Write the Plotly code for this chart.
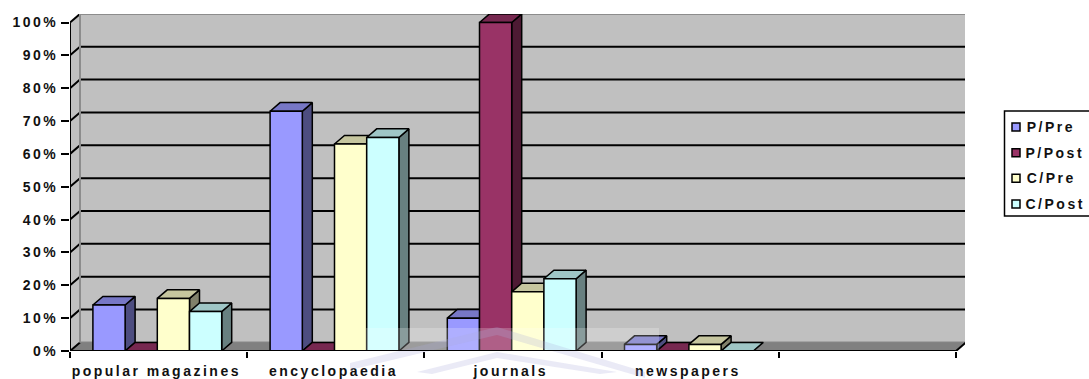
import plotly.graph_objects as go

categories = ["popular magazines", "encyclopaedia", "journals", "newspapers", " "]
series_names = ["P/Pre", "P/Post", "C/Pre", "C/Post"]
p_pre = [14, 73, 10, 2, None]
p_post = [0, 0, 100, 0, None]
c_pre = [16, 63, 18, 2, None]
c_post = [12, 65, 22, 0, None]
y_ticks = [0, 10, 20, 30, 40, 50, 60, 70, 80, 90, 100]
y_tick_text = ["0%", "10%", "20%", "30%", "40%", "50%", "60%", "70%", "80%", "90%", "100%"]

front_colors = ["#9999FF", "#993366", "#FFFFCC", "#CCFFFF"]
top_colors = ["#7777C6", "#772850", "#C6C69F", "#9FC6C6"]
side_colors = ["#4D4D80", "#4D1A33", "#80806A", "#688080"]

W, H = 1089, 379
L, R, T, B = 70, 965, 14, 351
PX_CAT = 177.2
PX_PCT = 3.285
DX = 10 / PX_CAT
DY = 8.6 / PX_PCT
XMIN = -0.5
XMAX = XMIN + (R - L) / PX_CAT
YMAX = (B - T) / PX_PCT
BAR_W = 32.2 / PX_CAT
BAR_SHIFT = 1.3 / PX_CAT
FONT = dict(family="Liberation Sans, Arial, sans-serif", size=14, color="#111111")

fig = go.Figure()


def poly(xs, ys, fill, line="#000000", lw=1.5):
    fig.add_trace(go.Scatter(x=xs, y=ys, mode="lines", fill="toself", fillcolor=fill,
                             line=dict(color=line, width=lw), hoverinfo="skip",
                             showlegend=False, cliponaxis=False, xaxis="x", yaxis="y"))


X_END = XMIN + 5
# walls and floor
poly([XMIN + DX, X_END + DX, X_END + DX, XMIN + DX, XMIN + DX], [DY, DY, 100 + DY, 100 + DY, DY],
     "#C0C0C0", "#8C8C8C", 2)
poly([XMIN, XMIN + DX, XMIN + DX, XMIN, XMIN], [0, DY, 100 + DY, 100, 0], "#C0C0C0", "#C0C0C0", 0.5)
poly([XMIN, XMIN + DX, X_END + DX, X_END, XMIN], [0, DY, DY, 0, 0], "#808080", "#808080", 0.5)

# gridlines with their diagonal on the side wall
gx, gy = [], []
for v in y_ticks:
    if v == 0 or v == 100:
        gx += [XMIN, XMIN + DX, None]
        gy += [v, v + DY, None]
    else:
        gx += [XMIN, XMIN + DX, X_END + DX, None]
        gy += [v, v + DY, v + DY, None]
gx += [X_END, X_END + DX]
gy += [0, DY]
fig.add_trace(go.Scatter(x=gx, y=gy, mode="lines", line=dict(color="#000000", width=2),
                         hoverinfo="skip", showlegend=False, cliponaxis=False,
                         xaxis="x", yaxis="y"))
# re-draw the gray back-wall left edge above the gridline start
poly([XMIN + DX, XMIN + DX], [DY, 100 + DY], "rgba(0,0,0,0)", "#8C8C8C", 2)

all_series = [p_pre, p_post, c_pre, c_post]
# top and side faces of each bar, from the values
for i in range(4):
    for j in range(4):
        v = all_series[j][i]
        left = i - 2 * BAR_W + j * BAR_W - BAR_SHIFT
        right = left + BAR_W
        if v > 0:
            poly([right, right + DX, right + DX, right, right], [0, DY, v + DY, v, 0], side_colors[j])
        poly([left, left + DX, right + DX, right, left], [v, v + DY, v + DY, v, v], top_colors[j])

# front faces: real bars on an overlaying axis pair
for name, vals, col in zip(series_names, all_series, front_colors):
    fig.add_trace(go.Bar(x=categories, y=vals, name=name, marker=dict(color=col, line=dict(color="#000000", width=1.5)),
                         xaxis="x2", yaxis="y2", showlegend=False))

shapes = []
annotations = []
# legend drawn with paper-referenced shapes
shapes.append(dict(type="rect", xref="paper", yref="paper", x0=1004.5 / W, x1=1095 / W,
                   y0=1 - 216 / H, y1=1 - 111 / H, line=dict(color="#000000", width=1.5),
                   fillcolor="#FFFFFF"))
rows = [127, 152.7, 178.3, 204]
for name, col, y in zip(series_names, front_colors, rows):
    shapes.append(dict(type="rect", xref="paper", yref="paper", x0=1012 / W, x1=1020 / W,
                       y0=1 - (y + 4) / H, y1=1 - (y - 4) / H, fillcolor=col,
                       line=dict(color="#000000", width=1.5)))
    annotations.append(dict(xref="paper", yref="paper", x=1027 / W, y=1 - y / H, text="<b>%s</b>" % name,
                            showarrow=False, xanchor="left", yanchor="middle", font=FONT, xshift=4))

# faint watermark of the source page over the lower middle
shapes.append(dict(type="rect", xref="paper", yref="paper", x0=366 / W, x1=659 / W,
                   y0=1 - 351 / H, y1=1 - 328 / H, fillcolor="rgba(255,255,255,0.22)", line=dict(width=0)))
for pts in [[(350, 363), (497, 327), (645, 372), (645, 378), (497, 335), (350, 370)],
            [(417, 372), (497, 352), (617, 372), (600, 374), (497, 358), (432, 374)]]:
    path = "M" + " L".join("%g,%g" % (px / W, 1 - py / H) for px, py in pts) + " Z"
    shapes.append(dict(type="path", xref="paper", yref="paper", path=path,
                       fillcolor="rgba(170,170,220,0.25)", line=dict(width=0)))

fig.update_layout(
    width=W, height=H, margin=dict(l=0, r=0, t=0, b=0, autoexpand=False), autosize=False,
    paper_bgcolor="#FFFFFF", plot_bgcolor="rgba(0,0,0,0)", barmode="group",
    bargap=1 - 4 * BAR_W, bargroupgap=0, showlegend=False,
    font=FONT, shapes=shapes, annotations=annotations,
    xaxis=dict(domain=[L / W, R / W], range=[XMIN, XMAX], anchor="y", tickmode="array",
               tickvals=[-0.5, 0.5, 1.5, 2.5, 3.5, 4.5], ticks="outside", ticklen=6, tickwidth=2,
               tickcolor="#000000", showticklabels=False, showgrid=False, zeroline=False,
               showline=False),
    yaxis=dict(domain=[1 - B / H, 1 - T / H], range=[0, YMAX], anchor="x", tickmode="array",
               tickvals=y_ticks, ticktext=["<b>%s</b>" % t for t in y_tick_text], ticks="outside",
               ticklen=8, tickwidth=2, tickcolor="#000000", showgrid=False, zeroline=False,
               showline=False, tickfont=FONT),
    xaxis2=dict(domain=[L / W, R / W], range=[XMIN + BAR_SHIFT, XMAX + BAR_SHIFT], anchor="y2", overlaying="x",
                type="category", categoryorder="array", categoryarray=categories, tickmode="array",
                tickvals=categories, ticktext=["<b>%s</b>" % c for c in categories],
                ticks="outside", ticklen=7, tickcolor="rgba(0,0,0,0)", showgrid=False,
                zeroline=False, showline=False, tickfont=FONT, ticklabelshift=-1),
    yaxis2=dict(domain=[1 - B / H, 1 - T / H], range=[0, YMAX], anchor="x2", overlaying="y",
                showticklabels=False, ticks="", showgrid=False, zeroline=False, showline=False),
)

fig.add_shape(type="line", xref="x", yref="y", x0=XMIN, x1=XMIN, y0=0, y1=100,
              line=dict(color="#000000", width=2))
fig.add_shape(type="line", xref="x", yref="y", x0=XMIN, x1=X_END, y0=0, y1=0,
              line=dict(color="#000000", width=2))

css = ("document.body.style.margin='0';document.body.style.overflow='hidden';"
       "var s=document.createElement('style');"
       "s.textContent='.xtick text,.ytick text,.x2tick text,.annotation text{letter-spacing:2.5px}';"
       "document.head.appendChild(s);")
fig.write_html("out.html", post_script=css, config=dict(displayModeBar=False))
